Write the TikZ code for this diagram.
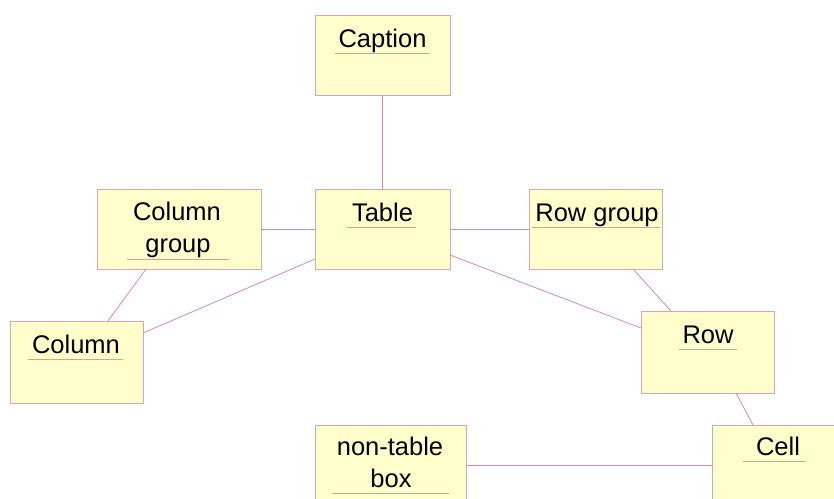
\documentclass[tikz,border=0pt]{standalone}
\usepackage{fontspec}
\setmainfont{Liberation Sans}
\definecolor{boxfill}{HTML}{FFFFCC}
\definecolor{boxline}{HTML}{DDA4B6}
\definecolor{linkline}{HTML}{D88AA6}
\definecolor{ulcolor}{HTML}{D8A0A0}
\tikzset{
  classbox/.style={draw=boxline, fill=boxfill, line width=0.9pt, rectangle,
    inner sep=0pt, outer sep=0pt, anchor=north west},
  classname/.style={font=\fontsize{25.5}{32}\selectfont, inner sep=0pt, anchor=base, text=black},
  uline/.style={draw=ulcolor, line width=0.9pt},
  link/.style={draw=linkline, line width=0.8pt}
}
\begin{document}
\begin{tikzpicture}[x=1pt,y=-1pt]
\useasboundingbox (0,0) rectangle (834,498);

% class boxes
\node[classbox, minimum width=135, minimum height=80] (caption) at (315,15) {};
\node[classbox, minimum width=135, minimum height=80] (table) at (315,189) {};
\node[classbox, minimum width=164, minimum height=80] (colgroup) at (97,189) {};
\node[classbox, minimum width=133, minimum height=80] (rowgroup) at (529,189) {};
\node[classbox, minimum width=133, minimum height=82] (column) at (10,321) {};
\node[classbox, minimum width=133, minimum height=82] (row) at (641,311) {};
\node[classbox, minimum width=151, minimum height=82] (nontable) at (315,425) {};
\node[classbox, minimum width=130, minimum height=82] (cell) at (712,425) {};

% names with underlines
\node[classname] (captiont) at (382.5,47) {Caption};
\draw[uline] (335,53) -- (430,53);
\node[classname] (tablet) at (382.5,221) {Table};
\draw[uline] (347,227) -- (416,227);
\node[classname] (colgroupt1) at (177,220) {Column};
\node[classname] (colgroupt2) at (178,252) {group};
\draw[uline] (127,259) -- (229,259);
\node[classname] (rowgroupt) at (597,221) {Row group};
\draw[uline] (532,227) -- (660,227);
\node[classname] (columnt) at (76,353) {Column};
\draw[uline] (28,359) -- (123,359);
\node[classname] (rowt) at (708,343) {Row};
\draw[uline] (679,349) -- (737,349);
\node[classname] (nontablet1) at (390,455) {non-table};
\node[classname] (nontablet2) at (391,487) {box};
\draw[uline] (332,493) -- (449,493);
\node[classname] (cellt) at (778,455) {Cell};
\draw[uline] (743,461) -- (806,461);

% associations
\draw[link] (caption.south) -- (table.north);
\draw[link] (colgroup.east |- 0,229) -- (table.west |- 0,229);
\draw[link] (table.east |- 0,229) -- (rowgroup.west |- 0,229);
\draw[link] (colgroup.south -| 146,0) -- (column.north -| 108,0);
\draw[link] (table.west |- 0,259) -- (column.east |- 0,333);
\draw[link] (table.east |- 0,255) -- (row.west |- 0,328);
\draw[link] (rowgroup.south -| 633,0) -- (row.north -| 671,0);
\draw[link] (row.south -| 736,0) -- (cell.north -| 753,0);
\draw[link] (nontable.east |- 0,465) -- (cell.west |- 0,465);
\end{tikzpicture}
\end{document}
